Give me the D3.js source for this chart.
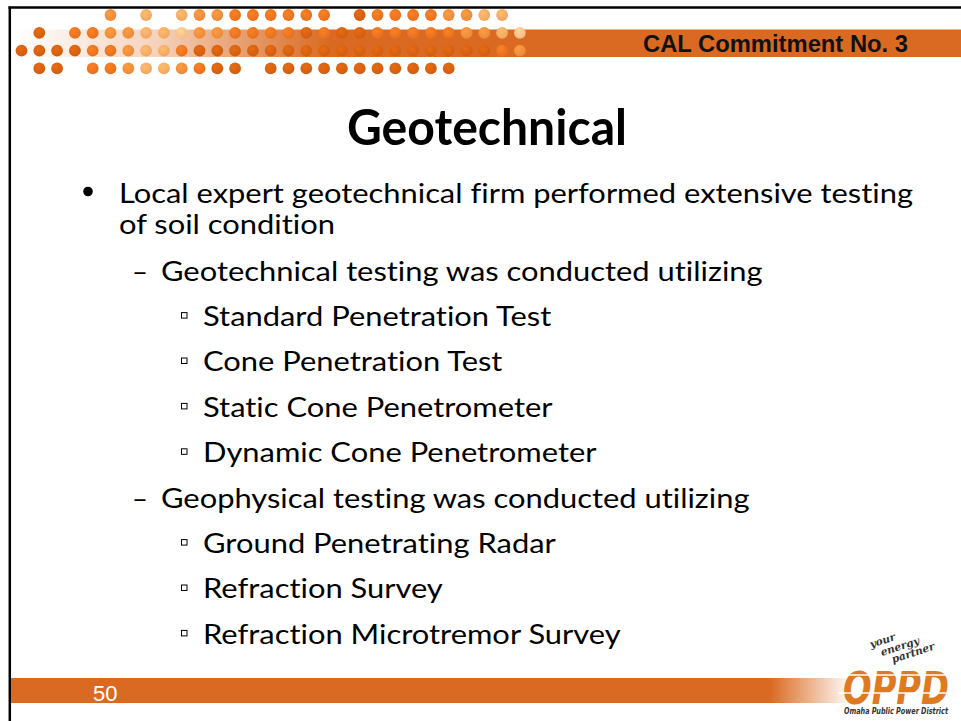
<!DOCTYPE html>
<html>
<head>
<meta charset="utf-8">
<title>Geotechnical</title>
<script src="https://cdn.jsdelivr.net/npm/d3@7"></script>
<style>
  html, body { margin: 0; padding: 0; background: #fff; }
  svg { display: block; }
  text { font-variant-ligatures: none; }
</style>
</head>
<body>
<svg id="slide" width="961" height="721"></svg>
<script>
// =============================================================================
// DATA
// =============================================================================

const tagText = 'CAL Commitment No. 3';
const headline = 'Geotechnical';
const pageNumber = '50';

const leadLines = [
  'Local expert geotechnical firm performed extensive testing',
  'of soil condition'
];
const methodHeads = [
  'Geotechnical testing was conducted utilizing',
  'Geophysical testing was conducted utilizing'
];
const geotechTests = [
  'Standard Penetration Test',
  'Cone Penetration Test',
  'Static Cone Penetrometer',
  'Dynamic Cone Penetrometer'
];
const geophysTests = [
  'Ground Penetrating Radar',
  'Refraction Survey',
  'Refraction Microtremor Survey'
];

// decorative dot band, one string per row, one char per column (shade key)
const dotRows = [
  '.....m.l.lmmoooooo.doooommll.',
  '.d.oommllpmmoooododdooooommlp',
  'ddddoomllo' + 'ddddddddddddddddd' + 'om',
  '.dd.oomllmodd.ddddddddddd....'
];

const taglineWords = ['your', 'energy', 'partner'];
const logoName = 'OPPD';
const logoCaption = 'Omaha Public Power District';

// =============================================================================
// CONSTANTS
// =============================================================================

const W = 961;
const H = 721;
const ORANGE = '#DA6A21';
const LOGO_ORANGE = '#E07A22';
const BODY_FONT = 'Lato, "Open Sans", sans-serif';
const ARIAL = '"Liberation Sans", Arial, sans-serif';
const CONDENSED = '"DejaVu Sans Condensed", "DejaVu Sans", sans-serif';

const DOT_SHADES = {
  d: '#CE5E10',
  o: '#E3711F',
  m: '#EA8A3A',
  l: '#F0A661',
  p: '#F4BC86'
};

// =============================================================================
// HELPERS
// =============================================================================

/**
 * Squeeze or stretch a text node to a given width.
 */
function fitWidth(sel, width) {
  sel.attr('textLength', width).attr('lengthAdjust', 'spacingAndGlyphs');
}

// =============================================================================
// RENDER
// =============================================================================

const svg = d3.select('#slide');
const defs = svg.append('defs');

svg.append('rect').attr('width', W).attr('height', H).attr('fill', '#fff');

// header band, fading in from the left
const bandFade = defs.append('linearGradient')
  .attr('id', 'bandFade')
  .attr('gradientUnits', 'userSpaceOnUse')
  .attr('x1', 15).attr('x2', 330).attr('y1', 0).attr('y2', 0);
bandFade.append('stop').attr('offset', 0).attr('stop-color', ORANGE).attr('stop-opacity', 0);
bandFade.append('stop').attr('offset', 0.45).attr('stop-color', ORANGE).attr('stop-opacity', 0.3);
bandFade.append('stop').attr('offset', 1).attr('stop-color', ORANGE).attr('stop-opacity', 1);

svg.append('rect')
  .attr('x', 15).attr('y', 29.5)
  .attr('width', W - 15).attr('height', 27.5)
  .attr('fill', 'url(#bandFade)');

// dot shading
Object.entries(DOT_SHADES).forEach(([key, c]) => {
  const g = defs.append('radialGradient')
    .attr('id', `dot-${key}`)
    .attr('cx', '40%').attr('cy', '35%').attr('r', '65%');
  g.append('stop').attr('offset', 0).attr('stop-color', d3.color(c).brighter(0.35));
  g.append('stop').attr('offset', 1).attr('stop-color', c);
});

const dotX = d3.scaleLinear().domain([0, 1]).range([21.5, 39.3]);
const dotY = d3.scaleLinear().domain([0, 1]).range([15, 32.8]);

const dots = [];
dotRows.forEach((row, r) => {
  row.split('').forEach((ch, c) => {
    if (DOT_SHADES[ch]) dots.push({ r, c, shade: ch });
  });
});

svg.append('g').attr('class', 'dots')
  .selectAll('circle')
  .data(dots)
  .join('circle')
  .attr('cx', d => dotX(d.c))
  .attr('cy', d => dotY(d.r))
  .attr('r', 5.9)
  .attr('fill', d => `url(#dot-${d.shade})`);

// slide frame (top + left edges visible)
svg.append('line')
  .attr('x1', 8.5).attr('x2', W).attr('y1', 7.5).attr('y2', 7.5)
  .attr('stroke', '#000').attr('stroke-width', 2.5);
svg.append('line')
  .attr('x1', 9.8).attr('x2', 9.8).attr('y1', 6.5).attr('y2', H)
  .attr('stroke', '#000').attr('stroke-width', 2.5);

// tag in the header band
svg.append('text')
  .attr('x', 643).attr('y', 51.5)
  .attr('font-family', ARIAL)
  .attr('font-weight', 'bold')
  .attr('font-size', 23.5)
  .attr('fill', '#111')
  .text(tagText)
  .call(fitWidth, 265);

// title
svg.append('text')
  .attr('x', 347).attr('y', 145)
  .attr('font-family', BODY_FONT)
  .attr('font-weight', 'bold')
  .attr('font-size', 49)
  .attr('fill', '#000')
  .text(headline)
  .call(fitWidth, 280);

// -----------------------------------------------------------------------------
// body outline
// -----------------------------------------------------------------------------

const body = svg.append('g')
  .attr('font-family', BODY_FONT)
  .attr('font-size', 27)
  .attr('fill', '#000');

const leadY = d3.scaleLinear().domain([0, 1]).range([203, 234]);

const leadText = body.selectAll('text.lead')
  .data(leadLines)
  .join('text')
  .attr('class', 'lead')
  .attr('x', 119)
  .attr('y', (d, i) => leadY(i))
  .text(d => d);

// calibrate the Calibri-like width from the first line
const scaleK = 794 / leadText.node().getComputedTextLength();

body.append('circle')
  .attr('cx', 88).attr('cy', leadY(0) - 11.5)
  .attr('r', 4.8);

const rows = [
  { level: 2, text: methodHeads[0] },
  ...geotechTests.map(t => ({ level: 3, text: t })),
  { level: 2, text: methodHeads[1] },
  ...geophysTests.map(t => ({ level: 3, text: t }))
];

const rowY = d3.scaleLinear().domain([0, 1]).range([280.5, 325.9]);
const indent = { 2: 161, 3: 203 };

body.selectAll('text.row')
  .data(rows)
  .join('text')
  .attr('class', 'row')
  .attr('x', d => indent[d.level])
  .attr('y', (d, i) => rowY(i))
  .text(d => d.text);

body.selectAll('text.lead, text.row').each(function () {
  const w = this.getComputedTextLength();
  d3.select(this).call(fitWidth, w * scaleK);
});

// level-2 dashes
body.selectAll('text.dash')
  .data(rows.map((d, i) => ({ ...d, i })).filter(d => d.level === 2))
  .join('text')
  .attr('class', 'dash')
  .attr('x', 132)
  .attr('y', d => rowY(d.i))
  .text('\u2013')
  .call(fitWidth, 16);

// level-3 hollow squares
body.selectAll('rect.sq')
  .data(rows.map((d, i) => ({ ...d, i })).filter(d => d.level === 3))
  .join('rect')
  .attr('class', 'sq')
  .attr('x', 181.5)
  .attr('y', d => rowY(d.i) - 13.3)
  .attr('width', 5.5)
  .attr('height', 5.5)
  .attr('fill', 'none')
  .attr('stroke', '#000')
  .attr('stroke-width', 1);

// -----------------------------------------------------------------------------
// footer
// -----------------------------------------------------------------------------

const footFade = defs.append('linearGradient')
  .attr('id', 'footFade')
  .attr('gradientUnits', 'userSpaceOnUse')
  .attr('x1', 770).attr('x2', 852).attr('y1', 0).attr('y2', 0);
footFade.append('stop').attr('offset', 0).attr('stop-color', ORANGE).attr('stop-opacity', 1);
footFade.append('stop').attr('offset', 1).attr('stop-color', ORANGE).attr('stop-opacity', 0);

svg.append('rect')
  .attr('x', 11).attr('y', 678)
  .attr('width', 841).attr('height', 25)
  .attr('fill', 'url(#footFade)');

svg.append('text')
  .attr('x', 93).attr('y', 701)
  .attr('font-family', ARIAL)
  .attr('font-size', 22)
  .attr('fill', '#fff')
  .text(pageNumber);

// logo
const logo = svg.append('g').attr('class', 'logo');

const tagPos = [[871, 648], [882, 656], [893, 663]];
logo.selectAll('text.tagline')
  .data(taglineWords)
  .join('text')
  .attr('class', 'tagline')
  .attr('transform', (d, i) => `translate(${tagPos[i][0]},${tagPos[i][1]}) rotate(-18)`)
  .attr('font-family', '"DejaVu Serif", serif')
  .attr('font-style', 'italic')
  .attr('font-weight', 'bold')
  .attr('font-size', 10.5)
  .attr('fill', '#333')
  .text(d => d);

// wordmark + caption share one text node, scaled into the logo box
const LOGO_SIZE = 30;
const logoText = logo.append('text')
  .attr('font-family', CONDENSED)
  .attr('font-weight', 'bold')
  .attr('font-style', 'italic')
  .attr('font-size', LOGO_SIZE);

const nameSpan = logoText.append('tspan')
  .attr('x', 0).attr('y', 0)
  .attr('fill', LOGO_ORANGE)
  .text(logoName);

const sx = 106 / nameSpan.node().getComputedTextLength();
const sy = 33 / (0.73 * LOGO_SIZE);
logoText.attr('transform', `translate(843,703.5) scale(${sx},${sy})`);

logoText.append('tspan')
  .attr('x', 1 / sx).attr('y', 11 / sy)
  .attr('font-size', 7 / (0.73 * sy))
  .attr('fill', '#333')
  .attr('textLength', 104 / sx)
  .attr('lengthAdjust', 'spacingAndGlyphs')
  .text(logoCaption);

// speed stripes through the logo letters
logo.selectAll('line.stripe')
  .data([675, 693])
  .join('line')
  .attr('class', 'stripe')
  .attr('x1', 838).attr('x2', 952)
  .attr('y1', d => d).attr('y2', d => d)
  .attr('stroke', '#fff')
  .attr('stroke-width', 1.6);
</script>
</body>
</html>
